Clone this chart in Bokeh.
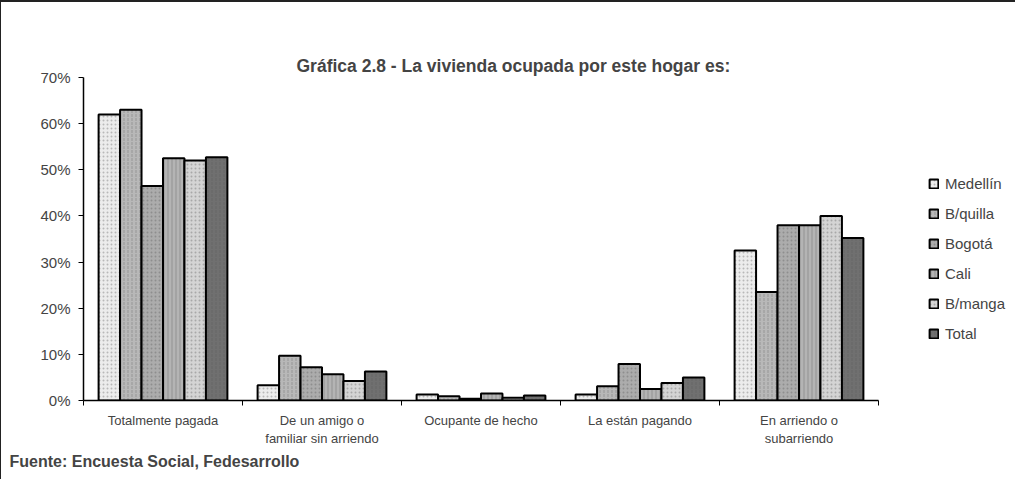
from bokeh.plotting import figure
from bokeh.models import (ColumnDataSource, FixedTicker, NumeralTickFormatter, Legend,
                          LegendItem, Title, Range1d)
from bokeh.transform import dodge
from bokeh.embed import file_html
from bokeh.resources import INLINE

categories = ["Totalmente pagada", "De un amigo o\nfamiliar sin arriendo",
              "Ocupante de hecho", "La están pagando", "En arriendo o\nsubarriendo"]
series = ["Medellín", "B/quilla", "Bogotá", "Cali", "B/manga", "Total"]
medellin = [0.62, 0.033, 0.013, 0.013, 0.325]
bquilla = [0.63, 0.097, 0.009, 0.031, 0.235]
bogota = [0.465, 0.072, 0.004, 0.079, 0.38]
cali = [0.525, 0.057, 0.015, 0.025, 0.38]
bmanga = [0.52, 0.042, 0.006, 0.038, 0.40]
total = [0.527, 0.063, 0.011, 0.05, 0.352]
values = [medellin, bquilla, bogota, cali, bmanga, total]
y_ticks = [0, 0.1, 0.2, 0.3, 0.4, 0.5, 0.6, 0.7]
title_text = "Gráfica 2.8 - La vivienda ocupada por este hogar es:"
source_text = "Fuente: Encuesta Social, Fedesarrollo"

colors = ["#ececec", "#b8b8b8", "#acacac", "#b4b4b4", "#d4d4d4", "#707070"]
hatches = ["dot", "vertical_dash", "dot", "vertical_line", "dot", "vertical_dash"]

FONT = "Liberation Sans"
positions = list(range(1, len(categories) + 1))
data = {"x": positions}
for name, vals in zip(series, values):
    data[name] = vals
source = ColumnDataSource(data)

W, H = 1015, 479
ML, MR, MT, MB = 82, 5, 75, 81
cat_px = 159.0
x_end = 0.5 + (W - ML - MR) / cat_px

p = figure(width=W, height=H, x_range=Range1d(0.5, x_end), y_range=Range1d(0, 0.70),
           output_backend="svg", toolbar_location=None,
           min_border_left=ML, min_border_right=MR, min_border_top=MT, min_border_bottom=MB)
p.styles = {"border-top": "2px solid #222222", "border-left": "1px solid #222222"}
p.title.text = title_text
p.title.text_font = FONT
p.title.text_font_size = "17.5px"
p.title.text_font_style = "bold"
p.title.align = "left"
p.title.offset = 213
p.title.standoff = 4

# invisible spacer between the frame and the title
spacer = Title(text=" ", standoff=34, text_font_size="1px", text_alpha=0)
p.add_layout(spacer, "above")

bw = 0.135
items = []
for j, name in enumerate(series):
    r = p.vbar(x=dodge("x", (j - 2.5) * bw, range=p.x_range), top=name, width=bw,
               bottom=0, source=source, fill_color=colors[j], line_color="black",
               line_width=2, hatch_pattern=hatches[j], hatch_color="#555555",
               hatch_scale=4, hatch_alpha=0.35, hatch_weight=1)
    items.append(LegendItem(label=name, renderers=[r]))

legend = Legend(items=items, location=(845, 57), padding=0, margin=0, spacing=10,
                label_text_font=FONT, label_text_font_size="15px", label_standoff=6,
                glyph_width=11, glyph_height=11, label_height=20,
                border_line_color=None, background_fill_alpha=0)
p.add_layout(legend)

p.xgrid.grid_line_color = None
p.ygrid.grid_line_color = None
p.outline_line_color = None

p.yaxis.ticker = FixedTicker(ticks=y_ticks)
p.yaxis.formatter = NumeralTickFormatter(format="0%")
p.yaxis.major_tick_out = 5
p.yaxis.major_tick_in = 0
p.yaxis.minor_tick_line_color = None
p.yaxis.major_label_text_font = FONT
p.yaxis.major_label_text_font_size = "15px"
p.yaxis.major_label_standoff = 8
p.yaxis.axis_line_color = "black"
p.yaxis.axis_line_width = 1.5

p.xaxis.bounds = (0.5, 0.5 + len(categories))
p.xaxis.ticker = FixedTicker(ticks=positions, minor_ticks=[i + 0.5 for i in range(0, 6)])
p.xaxis.major_label_overrides = {pos: lab for pos, lab in zip(positions, categories)}
p.xaxis.major_tick_line_color = None
p.xaxis.major_tick_out = 0
p.xaxis.minor_tick_out = 5
p.xaxis.minor_tick_in = 0
p.xaxis.major_label_text_font = FONT
p.xaxis.major_label_text_font_size = "13px"
p.xaxis.major_label_standoff = 7
p.xaxis.axis_line_color = "black"
p.xaxis.axis_line_width = 1.5

footer = Title(text=source_text, align="left", offset=-74,
               text_font=FONT, text_font_size="16px", text_font_style="bold", standoff=5)
p.add_layout(footer, "below")

open("out.html", "w").write(file_html(p, INLINE))
